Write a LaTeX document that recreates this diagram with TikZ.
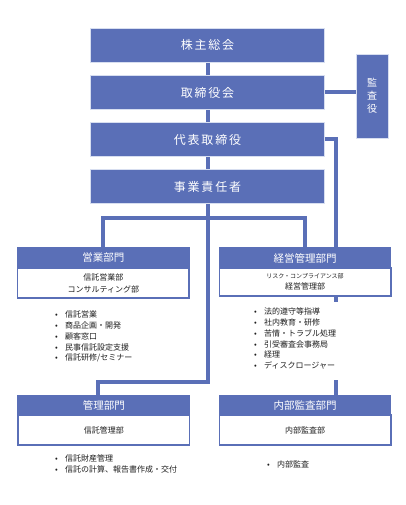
\documentclass[tikz,border=0pt]{standalone}
\usepackage{fontspec}
\setmainfont{Noto Sans CJK JP}
\newfontfamily\widecjk[LetterSpace=15]{Noto Sans CJK JP}
\definecolor{mb}{RGB}{90,111,183}
\definecolor{lb}{RGB}{215,222,240}
\definecolor{tx}{RGB}{30,30,30}
\newcommand\itm{\makebox[10pt][l]{\textbullet}}
\begin{document}
\begin{tikzpicture}[x=1pt,y=-1pt,
 topbox/.style={fill=mb, draw=lb, line width=0.8pt, minimum width=234pt, minimum height=34.5pt, inner sep=0, text=white, font=\fontsize{12}{14}\widecjk},
 sidebox/.style={fill=mb, draw=lb, line width=0.8pt, minimum width=32pt, minimum height=84pt, inner sep=0, text=white, align=center, font=\fontsize{10}{13}\selectfont},
 hdr/.style={fill=mb, draw=mb, line width=1.2pt, minimum width=171.5pt, inner sep=0, text=white, font=\fontsize{10.5}{12}\selectfont},
 wbox/.style={fill=white, draw=mb, line width=1.5pt, minimum width=171.5pt, inner sep=0, align=center, text=tx, font=\fontsize{8}{12}\selectfont},
 conn/.style={draw=mb, line width=4pt},
 lst/.style={inner sep=0, anchor=north west, fill=white, text=tx, font=\fontsize{8}{10.7}\selectfont}]
\useasboundingbox (0,0) rectangle (405,505);
% top chain
\node[topbox] (kabu) at (207.5,45.2) {株主総会};
\node[topbox] (tori) at (207.5,92.5) {取締役会};
\node[topbox] (dai) at (207.5,139.5) {代表取締役};
\node[topbox] (jigyo) at (207.5,186.5) {事業責任者};
\node[sidebox] (kansa) at (372,96) {監\\査\\役};
% departments
\node[hdr, minimum height=20pt] (eigyoH) at (103.3,258) {営業部門};
\node[wbox, minimum height=30pt] (eigyoB) at (103.3,283) {信託営業部\\コンサルティング部};
\node[hdr, minimum height=20pt] (keieiH) at (305,258) {経営管理部門};
\node[wbox, minimum height=28pt] (keieiB) at (305,282) {{\fontsize{6}{7}\selectfont リスク・コンプライアンス部}\\[-1pt]経営管理部};
\node[hdr, minimum height=19pt] (kanriH) at (103.8,405.5) {管理部門};
\node[wbox, minimum height=30pt] (kanriB) at (103.8,430) {信託管理部};
\node[hdr, minimum height=19pt] (naibuH) at (305,405.5) {内部監査部門};
\node[wbox, minimum height=30pt] (naibuB) at (305,430) {内部監査部};
% connectors
\coordinate (bar) at (207.5,218);
\coordinate (mid) at (207.5,382);
\draw[conn] (kabu) -- (tori);
\draw[conn] (tori) -- (dai);
\draw[conn] (dai) -- (jigyo);
\draw[conn] (tori.east) -- (tori.east -| kansa.west);
\draw[conn] (dai.east) -| ([xshift=30.5pt]keieiH.north);
\draw[conn] (eigyoH.north) |- (bar) -| (keieiH.north);
\draw[conn] (jigyo.south) -- (mid) -| ([xshift=-6pt]kanriH.north);
\draw[conn] ([xshift=30.5pt]keieiB.south) -- ([xshift=30.5pt]naibuH.north);
% lists
\node[lst] (eigyoL) at (55,311) {\parbox[t]{130pt}{\itm 信託営業\\\itm 商品企画・開発\\\itm 顧客窓口\\\itm 民事信託設定支援\\\itm 信託研修/セミナー}};
\node[lst] (keieiL) at (254,302) {\parbox[t][78pt][t]{90pt}{\vspace*{6pt}\itm 法的遵守等指導\\\itm 社内教育・研修\\\itm 苦情・トラブル処理\\\itm 引受審査会事務局\\\itm 経理\\\itm ディスクロージャー}};
\node[lst] (kanriL) at (55,455) {\parbox[t]{150pt}{\itm 信託財産管理\\\itm 信託の計算、報告書作成・交付}};
\node[lst] (naibuL) at (267,461) {\parbox[t]{60pt}{\itm 内部監査}};
\end{tikzpicture}
\end{document}
